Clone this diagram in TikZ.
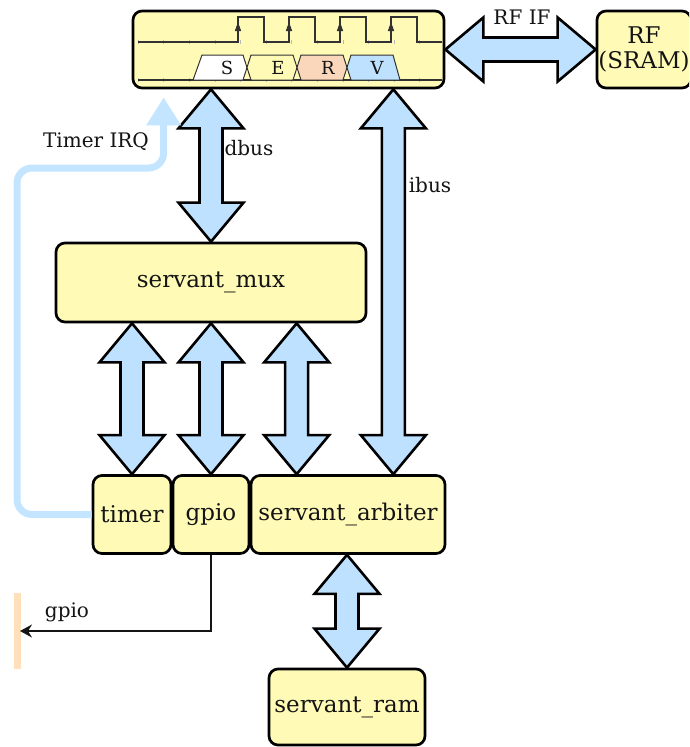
\documentclass[tikz,border=0pt]{standalone}
\usepackage{fontspec}
\setmainfont{DejaVu Serif}
\usetikzlibrary{calc,arrows.meta}

\definecolor{blockyellow}{RGB}{255,251,182}
\definecolor{busblue}{RGB}{190,225,255}
\definecolor{irqblue}{RGB}{196,229,255}
\definecolor{stagepeach}{RGB}{250,214,186}
\definecolor{portorange}{RGB}{255,224,186}
\definecolor{inkgray}{RGB}{20,20,20}
\definecolor{wavegray}{RGB}{50,50,50}

\tikzset{
  blk/.style={draw=black, fill=blockyellow, rounded corners=9pt, line width=2.7pt,
              inner sep=0pt, text=inkgray, font=\fontsize{23}{25}\selectfont, align=center},
  busarrow/.style={draw=black, fill=busblue, line width=2.6pt, line join=miter},
  lbl/.style={text=inkgray, font=\fontsize{20}{22}\selectfont, inner sep=0pt},
  wave/.style={draw=wavegray, line width=1.2pt},
  stagebox/.style={draw=wavegray, line width=1pt},
  stagelbl/.style={text=inkgray, font=\fontsize{18}{19}\selectfont, inner sep=0pt},
  gridtick/.style={draw=gray!55, line width=0.6pt},
  irq/.style={draw=irqblue, line width=7pt, rounded corners=15pt},
  port/.style={draw=portorange, line width=7pt},
  sig/.style={draw=inkgray, line width=1.5pt},
}

% vertical two-headed bus arrow between a top end #1 and a bottom end #2
\newcommand\vbus[2]{%
  \draw[busarrow] (#1) -- ($(#1)+(32.5,39)$) -- ($(#1)+(11.5,39)$)
    -- ($(#2)+(11.5,-39)$) -- ($(#2)+(32.5,-39)$) -- (#2)
    -- ($(#2)+(-32.5,-39)$) -- ($(#2)+(-11.5,-39)$)
    -- ($(#1)+(-11.5,39)$) -- ($(#1)+(-32.5,39)$) -- cycle;}
% horizontal two-headed bus arrow between a left end #1 and a right end #2
\newcommand\hbus[2]{%
  \draw[busarrow] (#1) -- ($(#1)+(38,-32)$) -- ($(#1)+(38,-12)$)
    -- ($(#2)+(-38,-12)$) -- ($(#2)+(-38,-32)$) -- (#2)
    -- ($(#2)+(-38,32)$) -- ($(#2)+(-38,12)$)
    -- ($(#1)+(38,12)$) -- ($(#1)+(38,32)$) -- cycle;}

\begin{document}
\begin{tikzpicture}[x=1pt,y=-1pt]
\useasboundingbox (0,0) rectangle (689,747);
\clip (0,0) rectangle (689,747);

% blocks
\node[blk, minimum width=311pt, minimum height=77pt] (cpu) at (288.5,49.5) {};
\node[blk, minimum width=94pt, minimum height=77pt] (rf) at (644,49.5) {RF\\(SRAM)};
\node[blk, minimum width=310pt, minimum height=79pt] (mux) at (211,282.5) {servant\_mux};
\node[blk, minimum width=78pt, minimum height=78pt] (timer) at (132,514.5) {timer};
\node[blk, minimum width=76pt, minimum height=78pt] (gpio) at (211,514.5) {gpio};
\node[blk, minimum width=194pt, minimum height=78pt] (arb) at (348,514.5) {servant\_arbiter};
\node[blk, minimum width=156pt, minimum height=76pt] (ram) at (347,707) {servant\_ram};

% clock waveform and pipeline stages inside the core
\foreach \t in {0,...,11} {
  \draw[gridtick] (138+25.6*\t,40) -- (138+25.6*\t,44);
  \draw[gridtick] (138+25.6*\t,78) -- (138+25.6*\t,82);
}
\draw[wave] (138,42) -- (238,42)
  \foreach \r in {238,289,340,391} { -- (\r,42) -- (\r,17) -- (\r+26,17) -- (\r+26,42) }
  -- (442,42);
\foreach \r in {238,289,340,391}
  \fill[wavegray] (\r,22) -- (\r+3.2,31) -- (\r-3.2,31) -- cycle;
\draw[wave] (138,80) -- (442,80);
\draw[stagebox, fill=white] (193,80) -- (202,55) -- (243,55) -- (247,67.5) -- (243,80) -- cycle;
\draw[stagebox, fill=blockyellow] (251,55) -- (293,55) -- (297,67.5) -- (293,80) -- (251,80) -- (247,67.5) -- cycle;
\draw[stagebox, fill=stagepeach] (301,55) -- (343,55) -- (347,67.5) -- (343,80) -- (301,80) -- (297,67.5) -- cycle;
\draw[stagebox, fill=busblue] (351,55) -- (393,55) -- (400,80) -- (351,80) -- (347,67.5) -- cycle;
\node[stagelbl] (sS) at (227,68) {S};
\node[stagelbl] (sE) at (278,68) {E};
\node[stagelbl] (sR) at (328,68) {R};
\node[stagelbl] (sV) at (377,68) {V};

% buses
\coordinate (dtop) at (cpu.south -| mux.north);
\vbus{dtop}{mux.north}
\coordinate (ibot) at ($(arb.north east)+(-53,0)$);
\coordinate (itop) at (cpu.south -| ibot);
\vbus{itop}{ibot}
\coordinate (m1) at (mux.south -| timer.north);
\vbus{m1}{timer.north}
\coordinate (m2) at (mux.south -| gpio.north);
\vbus{m2}{gpio.north}
\coordinate (abot) at ($(arb.north west)+(47,0)$);
\coordinate (m3) at (mux.south -| abot);
\vbus{m3}{abot}
\coordinate (rtop) at (ram.north |- arb.south);
\vbus{rtop}{ram.north}
\hbus{cpu.east}{rf.west}

% timer interrupt
\coordinate (irqend) at ($(cpu.south west)+(32,8)$);
\draw[irq, -{Triangle[width=33pt,length=28pt]}] (timer.west) -- (17,514.5) -- (17,168) -- (irqend |- 0,168) -- (irqend);

% gpio output port
\coordinate (portTop) at (17,593);
\coordinate (portBot) at (17,669);
\draw[port] (portTop) -- (portBot);
\coordinate (portIn) at (20,631);
\draw[sig, -{Stealth[length=12pt,width=13pt,inset=4pt]}] (gpio.south) |- (portIn);

% labels
\node[lbl] (ldbus) at (249,148) {dbus};
\node[lbl] (libus) at (430,185) {ibus};
\node[lbl] (lrfif) at (522,17) {RF IF};
\node[lbl] (lirq) at (96,142) {Timer IRQ};
\node[lbl] (lgpio) at (67,612) {gpio};
\end{tikzpicture}
\end{document}
